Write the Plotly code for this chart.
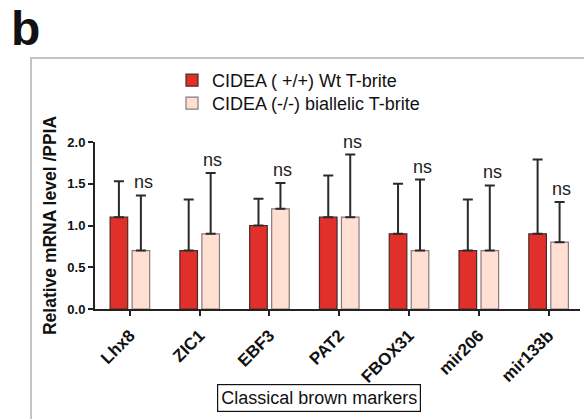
import plotly.graph_objects as go

categories = ["Lhx8", "ZIC1", "EBF3", "PAT2", "FBOX31", "mir206", "mir133b"]
wt_values = [1.1, 0.7, 1.0, 1.1, 0.9, 0.7, 0.9]
wt_errors = [0.43, 0.61, 0.32, 0.50, 0.60, 0.61, 0.89]
ko_values = [0.7, 0.9, 1.2, 1.1, 0.7, 0.7, 0.8]
ko_errors = [0.66, 0.73, 0.31, 0.75, 0.85, 0.78, 0.48]
sig_labels = ["ns"] * 7
y_ticks = [0.0, 0.5, 1.0, 1.5, 2.0]

RED = "#E1302A"
PINK = "#FFDFD2"
FONT = "Liberation Sans, Arial"

# plot area in pixels: x 95..580, y 142 (2.0) .. 309 (0.0)
L, R, T, B = 95, 580, 142, 309
W, H = R - L, B - T
def px(x):
    return (x - L) / W
def py(y):
    return (B - y) / H

fig = go.Figure()
fig.add_trace(go.Bar(
    x=categories, y=wt_values, name="CIDEA ( +/+) Wt T-brite", legend="legend",
    showlegend=True,
    marker=dict(color=RED, line=dict(color="#4a2a28", width=1.2)),
    error_y=dict(type="data", array=wt_errors, symmetric=False, arrayminus=[0]*7,
                 color="#2a2a2a", thickness=2, width=5),
))
fig.add_trace(go.Bar(
    x=categories, y=ko_values, name="CIDEA (-/-) biallelic T-brite", legend="legend2",
    showlegend=True,
    marker=dict(color=PINK, line=dict(color="#8a7a76", width=1.2)),
    error_y=dict(type="data", array=ko_errors, symmetric=False, arrayminus=[0]*7,
                 color="#2a2a2a", thickness=2, width=5),
))

annotations = []
for i, (v, e, s) in enumerate(zip(ko_values, ko_errors, sig_labels)):
    annotations.append(dict(x=i + 0.19, y=v + e, xref="x", yref="y", text=s,
                            showarrow=False, yanchor="bottom", yshift=1,
                            font=dict(family=FONT, size=18, color="#222")))

# panel letter
annotations.append(dict(x=px(9), y=py(0), xref="paper", yref="paper", text="<b>b</b>",
                        showarrow=False, xanchor="left", yanchor="top",
                        font=dict(family=FONT, size=48, color="#111")))
# group label box
annotations.append(dict(x=px(318.5), y=py(397.5), xref="paper", yref="paper",
                        text="Classical brown markers", showarrow=False,
                        xanchor="center", yanchor="middle",
                        bordercolor="#111", borderwidth=1.2, borderpad=3, bgcolor="white",
                        font=dict(family=FONT, size=18, color="#111")))

shapes = [dict(type="rect", xref="paper", yref="paper",
               x0=px(31), y0=-1.0, x1=1.2, y1=py(58),
               line=dict(color="#c4c4c4", width=2), layer="below")]

legend_common = dict(xanchor="left", yanchor="top", visible=True,
                     font=dict(size=18, color="#111"), bgcolor="rgba(0,0,0,0)")

fig.update_layout(
    width=584, height=419,
    margin=dict(l=L, r=584 - R, t=T, b=419 - B),
    paper_bgcolor="white", plot_bgcolor="white",
    showlegend=True,
    barmode="group", bargap=0.37, bargroupgap=0.2,
    font=dict(family=FONT, color="#111"),
    legend=dict(x=px(172), y=py(62), **legend_common),
    legend2=dict(x=px(172), y=py(85), **legend_common),
    annotations=annotations,
    shapes=shapes,
    xaxis=dict(range=[-0.5, 6.45], showline=True, linecolor="#222", linewidth=2,
               ticks="outside", ticklen=5, tickwidth=2, tickcolor="#222",
               ticklabelstandoff=3,
               tickangle=-45, tickfont=dict(size=17, color="#111", family=FONT, weight="bold"),
               showgrid=False, zeroline=False),
    yaxis=dict(range=[0, 2.0], tickvals=y_ticks, tickformat=".1f",
               showline=True, linecolor="#222", linewidth=2,
               ticks="outside", ticklen=5, tickwidth=2, tickcolor="#222",
               tickfont=dict(size=13, color="#111", family=FONT, weight="bold"),
               title=dict(text="<b>Relative mRNA level /PPIA</b>", font=dict(size=17.5), standoff=6),
               showgrid=False, zeroline=False),
)

fig.write_html("out.html")
